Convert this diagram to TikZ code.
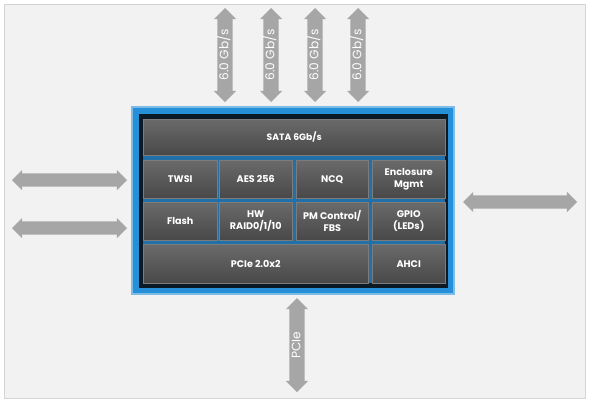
\documentclass[tikz,border=0pt]{standalone}
\usepackage{fontspec}
\setmainfont{Poppins}
\usetikzlibrary{shapes.arrows}
\definecolor{pagebg}{HTML}{F2F2F2}
\definecolor{pageedge}{HTML}{D4D4D4}
\definecolor{arrowgray}{HTML}{A6A6A6}
\definecolor{chipblue}{HTML}{2590D8}
\definecolor{chipdark}{HTML}{0C1A26}
\definecolor{gapblue}{HTML}{2270A8}
\definecolor{cellTop}{HTML}{6A6A6A}
\definecolor{cellBot}{HTML}{484848}
\definecolor{cellEdge}{HTML}{7C7C7C}
\begin{document}
\begin{tikzpicture}[x=1pt,y=-1pt,
  cell/.style={rectangle, inner sep=0pt, anchor=north west,
    top color=cellTop, bottom color=cellBot, draw=cellEdge, line width=0.5pt,
    text=white, align=center, font=\bfseries\fontsize{9.6}{12}\selectfont},
  darrow/.style={double arrow, fill=arrowgray, draw=none, text=white,
    double arrow head extend=3.5pt, minimum width=0pt, inner xsep=0pt,
    font=\fontsize{12.2}{13}\selectfont},
  tarrow/.style={darrow, rotate=90, inner ysep=2pt, text height=8.8pt, text depth=2.2pt, minimum height=94pt},
  harrow/.style={darrow, inner ysep=6.5pt, minimum height=115pt}
]
\useasboundingbox (0,0) rectangle (589,402);
\fill[white] (0,0) rectangle (589,402);
\draw[pageedge, fill=pagebg, line width=0.8pt] (4,4) rectangle (585,398);

% chip body
\fill[chipblue!60!white] (131,106) rectangle (455,295);
\fill[chipblue] (133,108) rectangle (453,293);
\fill[chipdark] (138.5,113.5) rectangle (447.5,287.5);
\fill[gapblue] (143,119) rectangle (445,283);

% cells
\node[cell, minimum width=302pt, minimum height=36pt, font=\bfseries\fontsize{9.2}{12}\selectfont] (sata) at (143,119) {SATA 6Gb/s};
\node[cell, minimum width=74pt, minimum height=38pt] (twsi) at (143,160) {TWSI};
\node[cell, minimum width=73pt, minimum height=38pt] (aes) at (219,160) {AES 256};
\node[cell, minimum width=72pt, minimum height=38pt] (ncq) at (296,160) {NCQ};
\node[cell, minimum width=73pt, minimum height=38pt] (encl) at (372,160) {Enclosure\\Mgmt};
\node[cell, minimum width=74pt, minimum height=38pt] (flash) at (143,202) {Flash};
\node[cell, minimum width=73pt, minimum height=38pt] (raid) at (219,202) {HW\\RAID0/1/10};
\node[cell, minimum width=72pt, minimum height=38pt] (pm) at (296,202) {PM Control/\\FBS};
\node[cell, minimum width=73pt, minimum height=38pt] (gpio) at (372,202) {GPIO\\(LEDs)};
\node[cell, minimum width=225pt, minimum height=39pt] (pcie) at (143,244) {PCIe 2.0x2};
\node[cell, minimum width=73pt, minimum height=39pt] (ahci) at (372,244) {AHCI};

% top SATA arrows
\node[tarrow] (s1) at (225,55) {6.0 Gb/s};
\node[tarrow] (s2) at (271,55) {6.0 Gb/s};
\node[tarrow] (s3) at (315,55) {6.0 Gb/s};
\node[tarrow] (s4) at (358,55) {6.0 Gb/s};

% bottom PCIe arrow
\node[tarrow] (pciearrow) at (297,345) {PCIe};

% side arrows
\node[harrow] (l1) at (69.5,180) {};
\node[harrow] (l2) at (69.5,228) {};
\node[harrow, minimum height=114pt] (r1) at (520,202) {};
\end{tikzpicture}
\end{document}
